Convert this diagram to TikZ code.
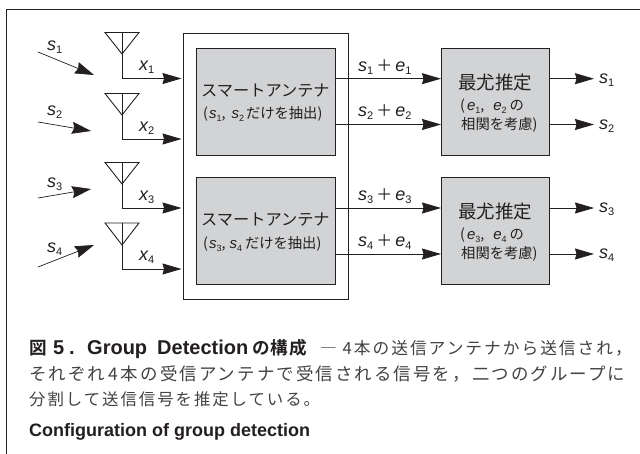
\documentclass[tikz,border=0pt]{standalone}
\usepackage{fontspec}
\usetikzlibrary{arrows.meta}
\setmainfont{Noto Sans CJK JP}
\newfontfamily\lat{Liberation Sans}
\newfontfamily\capfont[LetterSpace=12]{Noto Sans CJK JP}
\newfontfamily\capbold[LetterSpace=6]{Noto Sans CJK JP Bold}
\definecolor{ink}{HTML}{231F20}
\definecolor{boxgray}{HTML}{D1D3D4}
\newcommand\sgL[2]{{\lat\fontsize{18}{18}\selectfont\itshape #1}\raisebox{-3pt}{\lat\fontsize{11}{11}\selectfont #2}}
\newcommand\sgM[2]{{\lat\fontsize{15}{15}\selectfont\itshape #1}\raisebox{-2.5pt}{\lat\fontsize{9}{9}\selectfont #2}}
\newcommand\sumlab[4]{\sgL{#1}{#2}\hspace{3pt}{\fontsize{16}{16}\selectfont ＋}\hspace{3pt}\sgL{#3}{#4}}
\tikzset{
  conn/.style={draw=ink,line width=0.9pt,-{Stealth[length=19pt,width=11pt,inset=1.5pt]}},
  thin conn/.style={draw=ink,line width=0.7pt,-{Stealth[length=19pt,width=12pt,inset=2pt]}},
  ant/.style={draw=ink,line width=0.9pt,line join=miter},
  gbox/.style={draw=ink,line width=1pt,fill=boxgray,inner sep=0pt,anchor=north west},
  smart/.style={gbox,minimum width=139.5pt,minimum height=107pt},
  ml/.style={gbox,minimum width=107.5pt,minimum height=107pt},
  outerbox/.style={draw=ink,line width=0.9pt,fill=white,inner sep=0pt,anchor=north west,minimum width=165.5pt,minimum height=266.5pt},
  lab/.style={anchor=base west,inner sep=0pt,text=ink},
  big/.style={lab,font=\fontsize{16.2}{16.2}\selectfont},
  mid/.style={lab,font=\fontsize{14.3}{14.3}\selectfont},
  capl/.style={lab,font=\capfont\fontsize{16.7}{16.7}\selectfont,text=ink!85},
  capm/.style={lab,font=\capfont\fontsize{17.45}{17.45}\selectfont,text=ink!85},
  capn/.style={lab,font=\capfont\fontsize{16.4}{16.4}\selectfont,text=ink!85},
  capb/.style={lab,font=\capbold\fontsize{17.6}{17.6}\selectfont},
  capla/.style={lab,font=\lat\bfseries\fontsize{20}{20}\selectfont},
  caps/.style={lab,font=\lat\bfseries\fontsize{18}{18}\selectfont}
}
\begin{document}
\begin{tikzpicture}[x=1pt,y=-1pt]
\useasboundingbox (0,0) rectangle (640,454);
\fill[white] (0,0) rectangle (640,454);
\draw[ink,line width=0.9pt] (6.5,454) -- (6.5,9) -- (640,9);

\node[outerbox] (outer) at (182.5,33) {};
\node[smart] (sa1) at (195.5,48) {};
\node[smart] (sa2) at (195.5,177) {};
\node[ml] (ml1) at (441,48) {};
\node[ml] (ml2) at (441,177) {};

% box texts
\node[big] (t1) at (201,97) {スマートアンテナ};
\node[mid] (t1b) at (203,119) {(\hspace{1pt}\sgM{s}{1},\hspace{6pt}\sgM{s}{2}\hspace{2pt}だけを抽出)};
\node[big] (t2) at (201,226) {スマートアンテナ};
\node[mid] (t2b) at (203,249) {(\hspace{1pt}\sgM{s}{3},\hspace{4pt}\sgM{s}{4}\hspace{3pt}だけを抽出)};
\node[lab,font=\fontsize{18.5}{18.5}\selectfont] (m1) at (458,90) {最尤推定};
\node[mid] (m1b) at (460,111) {(\hspace{2pt}\sgM{e}{1},\hspace{9pt}\sgM{e}{2}\hspace{3pt}の};
\node[mid] (m1c) at (461,130) {相関を考慮)};
\node[lab,font=\fontsize{18.5}{18.5}\selectfont] (m2) at (458,219) {最尤推定};
\node[mid] (m2b) at (460,240) {(\hspace{2pt}\sgM{e}{3},\hspace{9pt}\sgM{e}{4}\hspace{3pt}の};
\node[mid] (m2c) at (461,259) {相関を考慮)};

% antennas
\foreach \n/\yt/\ya/\yh in {1/32.5/54/78.5,2/93.5/115/139,3/162.5/184/208,4/223/245/269}{
  \coordinate (l\n) at (105,\yt);
  \coordinate (r\n) at (139,\yt);
  \coordinate (m\n) at (122,\yt);
  \coordinate (a\n) at (122,\ya);
  \coordinate (in\n) at (181.5,\yh);
  \draw[ant] (l\n) -- (r\n) -- (a\n) -- cycle;
  \draw[ant] (m\n) -- (a\n);
  \draw[conn] (a\n) |- (in\n);
}
\node[lab] (x1) at (139,71) {\sgL{x}{1}};
\node[lab] (x2) at (139,132) {\sgL{x}{2}};
\node[lab] (x3) at (139,201) {\sgL{x}{3}};
\node[lab] (x4) at (139,261) {\sgL{x}{4}};

% incoming signals
\coordinate (s1a) at (38,52);  \coordinate (s1b) at (94,75);
\coordinate (s2a) at (38,122); \coordinate (s2b) at (91,131);
\coordinate (s3a) at (38,198); \coordinate (s3b) at (91,189);
\coordinate (s4a) at (38,267); \coordinate (s4b) at (94,245);
\foreach \n in {1,2,3,4}{\draw[thin conn] (s\n a) -- (s\n b);}
\node[lab] (s1l) at (47,51) {\sgL{s}{1}};
\node[lab] (s2l) at (47,116) {\sgL{s}{2}};
\node[lab] (s3l) at (47,188) {\sgL{s}{3}};
\node[lab] (s4l) at (47,253) {\sgL{s}{4}};

% middle connectors
\draw[conn] (sa1.east |- 0,78.7) -- (ml1.west |- 0,78.7);
\draw[conn] (sa1.east |- 0,124.5) -- (ml1.west |- 0,124.5);
\draw[conn] (sa2.east |- 0,208) -- (ml2.west |- 0,208);
\draw[conn] (sa2.east |- 0,254) -- (ml2.west |- 0,254);
\node[lab] (e1) at (358,72) {\sumlab{s}{1}{e}{1}};
\node[lab] (e2) at (358,117) {\sumlab{s}{2}{e}{2}};
\node[lab] (e3) at (358,201) {\sumlab{s}{3}{e}{3}};
\node[lab] (e4) at (358,247) {\sumlab{s}{4}{e}{4}};

% outputs
\coordinate (o1) at (594,78.7);
\coordinate (o2) at (594,124.5);
\coordinate (o3) at (594,208);
\coordinate (o4) at (594,254);
\draw[conn] (ml1.east |- o1) -- (o1);
\draw[conn] (ml1.east |- o2) -- (o2);
\draw[conn] (ml2.east |- o3) -- (o3);
\draw[conn] (ml2.east |- o4) -- (o4);
\node[lab] (os1) at (599,84) {\sgL{s}{1}};
\node[lab] (os2) at (599,130) {\sgL{s}{2}};
\node[lab] (os3) at (599,213) {\sgL{s}{3}};
\node[lab] (os4) at (599,259) {\sgL{s}{4}};

% caption
\node[capb] (c1) at (29,355) {図};
\node[capla] (c2) at (53,355) {5};
\node[capla] (c3) at (69,355) {.};
\node[capla] (c4) at (87,355) {Group};
\node[capla] (c5) at (157,355) {Detection};
\node[capb] (c6) at (252,355) {の構成};
\node[capl] (c7) at (320,355) {― 4本の送信アンテナから送信され，};
\node[capm] (c8) at (29,380) {それぞれ\hspace{3pt}4\hspace{3pt}本の受信アンテナで受信される信号を，二つのグループに};
\node[capn] (c9) at (29,405) {分割して送信信号を推定している。};
\node[caps] (c10) at (29,436) {Configuration of group detection};
\end{tikzpicture}
\end{document}
